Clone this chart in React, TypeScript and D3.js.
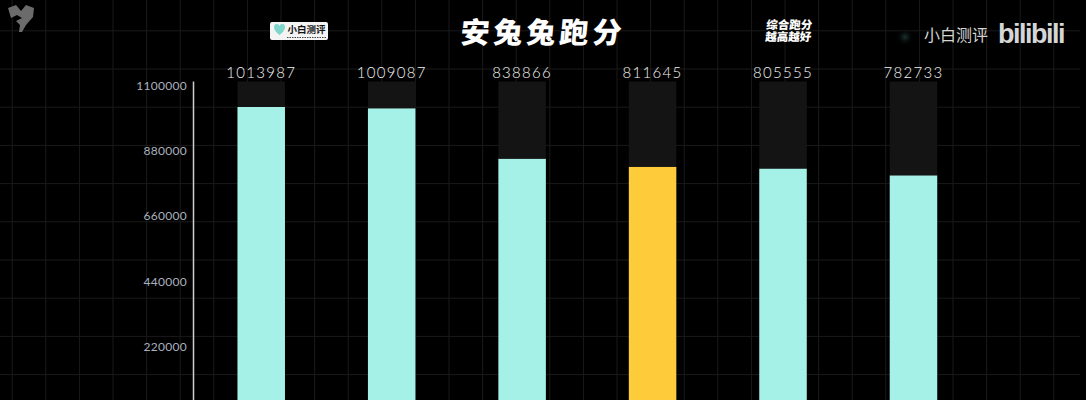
import React from "react";
import * as d3 from "d3";

const categories = ["p1", "p2", "p3", "p4", "p5", "p6"];
const scores = [1013987, 1009087, 838866, 811645, 805555, 782733];
const highlightIndex = 3;
const yTicks = [220000, 440000, 660000, 880000, 1100000];
const yMax = 1100000;

const W = 1086;
const H = 400;

export default function App() {
  const x = d3
    .scaleBand<string>()
    .domain(categories)
    .range([196, 196 + 6 * 130.45])
    .paddingInner(0.636)
    .paddingOuter(0.318);
  const y = d3.scaleLinear().domain([0, yMax]).range([407.5, 81.5]);

  const gridX = d3.range(0, 33).map((i) => 12.2 + i * 33.6).filter((v) => v < 1082);
  const gridY = d3.range(0, 10).map((i) => 30.8 + i * 38.2);

  return (
    <svg width={W} height={H} style={{ position: "absolute", left: 0, top: 0, background: "#000" }}>
      <defs>
        <radialGradient id="glow">
          <stop offset="0%" stopColor="#1d3a33" stopOpacity={0.9} />
          <stop offset="100%" stopColor="#000" stopOpacity={0} />
        </radialGradient>
      </defs>
      <rect width={W} height={H} fill="#000" />
      {gridX.map((gx, i) => (
        <line key={"gx" + i} x1={gx} x2={gx} y1={0} y2={H} stroke="#1a1a1a" strokeWidth={1} />
      ))}
      {gridY.map((gy, i) => (
        <line key={"gy" + i} x1={0} x2={1080} y1={gy} y2={gy} stroke="#1a1a1a" strokeWidth={1} />
      ))}
      <circle cx={905} cy={37} r={9} fill="url(#glow)" />

      {/* top-left logo */}
      <g transform="translate(8,5)" fill="#6b6b6b">
        <path d="M0 3 L8 0 L13 6 L18 0 L26 3 L25 12 L18 20 L14 27 L11 27 L12 20 L8 16 L14 13 L9 10 L3 13 Z" />
      </g>

      {/* badge */}
      <g>
        <rect x={270} y={22} width={58} height={18} rx={2} fill="#f4f4f4" />
        <path d="M274 27 Q274 24 277 24 Q279 24 279.5 26 Q280 24 282 24 Q285 24 285 27 Q285 31 279.5 35 Q274 31 274 27 Z" fill="#7fd6cc" />
        <text x={306.5} y={33} textAnchor="middle" fontFamily="'Noto Sans CJK SC'" fontWeight={700} fontSize={9.5} fill="#111">小白测评</text>
        <line x1={287} x2={326} y1={37.5} y2={37.5} stroke="#444" strokeWidth={1} strokeDasharray="1.5 1" />
      </g>

      {/* title */}
      <text
        x={543}
        y={43}
        textAnchor="middle"
        fontFamily="'Noto Sans CJK SC'"
        fontWeight={900}
        fontSize={29}
        letterSpacing={4}
        fill="#fff"
        transform="translate(3,0) skewX(-5)"
      >
        安兔兔跑分
      </text>

      {/* top-right notes */}
      <g fontFamily="'Noto Sans CJK SC'" fontWeight={900} fontSize={11.5} fill="#fff" textAnchor="middle">
        <text x={791} y={29} transform="skewX(-4)">综合跑分</text>
        <text x={791} y={41.5} transform="skewX(-4)">越高越好</text>
      </g>
      <text x={956} y={41} textAnchor="middle" fontFamily="'Noto Sans CJK SC'" fontWeight={400} fontSize={16} fill="#d4d4d4">
        小白测评
      </text>
      <text x={1031} y={43} textAnchor="middle" fontFamily="'Liberation Sans'" fontWeight={700} fontSize={27} letterSpacing={-1.5} fill="#d6d6d6">
        bilibili
      </text>

      {/* axis */}
      <line x1={193.5} x2={193.5} y1={81.5} y2={H} stroke="#cfcfcf" strokeWidth={1.5} />
      {yTicks.map((t) => (
        <text
          key={t}
          x={187}
          y={y(t) + 8.5}
          textAnchor="end"
          fontFamily="Lato"
          fontSize={12}
          letterSpacing={0.3}
          fill="#aab0be"
        >
          {t}
        </text>
      ))}

      {/* bars */}
      {categories.map((c, i) => {
        const bx = x(c)!;
        const bw = x.bandwidth();
        return (
          <g key={c}>
            <rect x={bx} y={y(yMax)} width={bw} height={y(0) - y(yMax)} fill="#141414" />
            <rect
              x={bx}
              y={y(scores[i])}
              width={bw}
              height={y(0) - y(scores[i])}
              fill={i === highlightIndex ? "#fecb3b" : "#a6f1e7"}
            />
            <text
              x={bx + bw / 2}
              y={77.5}
              textAnchor="middle"
              fontFamily="Lato"
              fontWeight={300}
              fontSize={15}
              letterSpacing={1.3}
              fill="#f2f2f2"
            >
              {scores[i]}
            </text>
          </g>
        );
      })}
    </svg>
  );
}
